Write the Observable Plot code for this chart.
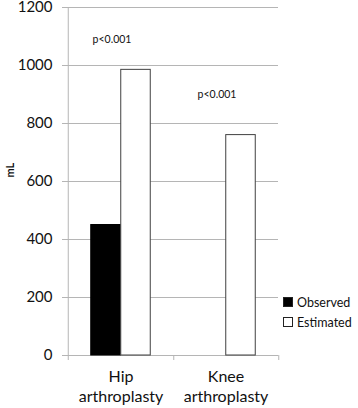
<!DOCTYPE html>
<html><head><meta charset="utf-8">
<script src="https://cdn.jsdelivr.net/npm/d3@7"></script>
<script src="https://cdn.jsdelivr.net/npm/@observablehq/plot@0.6"></script>
<style>
body{margin:0;background:#fff;}
#chart{position:relative;width:358px;height:408px;font-family:Lato,sans-serif;}
#chart svg{display:block;}
.legend{position:absolute;left:283px;top:292px;font-family:Lato,sans-serif;font-size:12.5px;color:#111;}
.legend .row{display:flex;align-items:center;height:20px;}
.legend .sw{display:inline-block;width:8px;height:8px;border:1px solid #222;margin-right:4px;}
</style></head><body><div id="chart"></div>
<script>
const groups = ["Hip arthroplasty", "Knee arthroplasty"];
const series = ["Observed", "Estimated"];
const observed = [450, null];
const estimated = [985, 760];
const yTicks = [0, 200, 400, 600, 800, 1000, 1200];
const pLabels = ["p<0.001", "p<0.001"];
const pLabelY = [1090, 900];
const seriesFill = ["#000000", "#ffffff"];

const rows = [];
groups.forEach((g, i) => {
  rows.push({group: g, series: series[0], value: observed[i]});
  rows.push({group: g, series: series[1], value: estimated[i]});
});
const obsRows = rows.filter(d => d.series === series[0] && d.value != null);
const estRows = rows.filter(d => d.series === series[1] && d.value != null);
const annos = groups.map((g, i) => ({group: g, text: pLabels[i], y: pLabelY[i]}));

const gridColor = "#b5b5b5";
const half = 52.75; // half of band width

const chart = Plot.plot({
  width: 358,
  height: 408,
  marginLeft: 67,
  marginRight: 80,
  marginTop: 7,
  marginBottom: 53,
  style: {fontFamily: "Lato, sans-serif", color: "#111", background: "#fff", overflow: "visible"},
  x: {domain: groups, padding: 0},
  y: {domain: [0, 1200]},
  marks: [
    Plot.ruleY(yTicks, {stroke: gridColor, strokeWidth: 1, insetLeft: -5}),
    Plot.ruleX([groups[0]], {y1: 1200, y2: 0, dx: -half, insetBottom: -5, stroke: gridColor}),
    Plot.ruleX(groups, {y1: 0, y2: 0, dx: half, insetBottom: -5, stroke: gridColor}),
    Plot.barY(obsRows, {x: "group", y: "value", fill: seriesFill[0], stroke: "#000", insetLeft: half - 30, insetRight: half}),
    Plot.barY(estRows, {x: "group", y: "value", fill: seriesFill[1], stroke: "#404040", insetLeft: half, insetRight: half - 30}),
    Plot.axisY({ticks: yTicks, tickSize: 0, tickPadding: 15, fontSize: 15, label: null, tickFormat: d => String(d)}),
    Plot.axisX({tickSize: 0, tickPadding: 12, fontSize: 16, lineHeight: 1.25, label: null, tickFormat: d => d.replace(" ", "\n")}),
    Plot.text(annos, {x: "group", y: "y", text: "text", dx: -9, fontSize: 10.5, fill: "#111"}),
    Plot.text(["mL"], {frameAnchor: "left", dx: -57, dy: -4, rotate: -90, fontWeight: "bold", fontSize: 11, fill: "#111"})
  ]
});
const root = document.getElementById("chart");
root.appendChild(chart);
const lg = document.createElement("div");
lg.className = "legend";
series.forEach((s, i) => {
  const r = document.createElement("div");
  r.className = "row";
  const sw = document.createElement("span");
  sw.className = "sw";
  sw.style.background = seriesFill[i];
  r.appendChild(sw);
  r.appendChild(document.createTextNode(s));
  lg.appendChild(r);
});
root.appendChild(lg);
</script></body></html>
